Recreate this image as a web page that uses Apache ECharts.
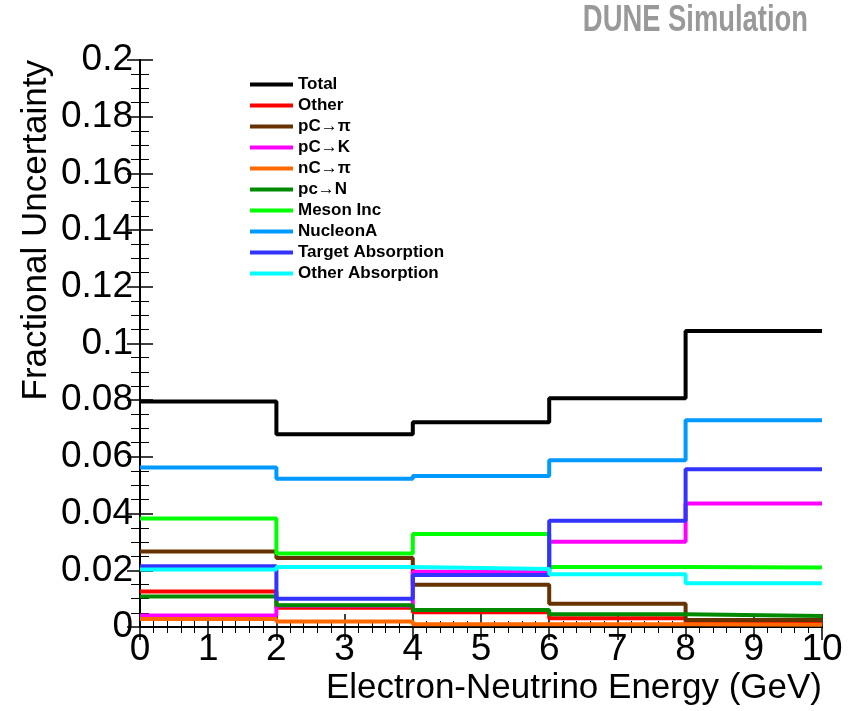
<!DOCTYPE html>
<html lang="en">
<head>
    <meta charset="UTF-8">
    <title>DUNE Simulation</title>
    <style>
        *{ margin: 0; padding: 0; }
        #main{ width: 858px; height: 711px; background: #fff; }
    </style>
</head>
<body>
<div id="main"></div>
<script src="https://cdn.jsdelivr.net/npm/echarts@6/dist/echarts.min.js"></script>
<script>
    // bin edges (GeV) and per-bin fractional uncertainties
    let binEdges = [0, 2, 4, 6, 8, 10];
    let names = ['Total', 'Other', 'pC\u2192\u03c0', 'pC\u2192K', 'nC\u2192\u03c0', 'pc\u2192N',
        'Meson Inc', 'NucleonA', 'Target Absorption', 'Other Absorption'];
    let colors = ['#000000', '#ff0000', '#663300', '#ff00ff', '#ff6a00', '#008a00',
        '#00ff00', '#0099ff', '#3333ff', '#00ffff'];

    let total = [0.0795, 0.0680, 0.0722, 0.0807, 0.1044];
    let other = [0.0125, 0.0068, 0.0052, 0.0031, 0.0015];
    let pcPi = [0.0266, 0.0243, 0.0149, 0.0082, 0.0025];
    let pcK = [0.0041, 0.0075, 0.0195, 0.0301, 0.0436];
    let ncPi = [0.0028, 0.0019, 0.0010, 0.0010, 0.0008];
    let pcN = [0.0108, 0.0077, 0.0060, 0.0045, 0.0039];
    let mesonInc = [0.0383, 0.0259, 0.0328, 0.0212, 0.0210];
    let nucleonA = [0.0563, 0.0523, 0.0533, 0.0588, 0.0729];
    let targetAbs = [0.0214, 0.0100, 0.0183, 0.0375, 0.0556];
    let otherAbs = [0.0203, 0.0212, 0.0205, 0.0186, 0.0154];

    let allValues = [total, other, pcPi, pcK, ncPi, pcN, mesonInc, nucleonA, targetAbs, otherAbs];

    function stepData(vals){
        let d = [];
        for(let i = 0;i<vals.length;i++){
            d.push([binEdges[i], vals[i]]);
        }
        d.push([binEdges[binEdges.length-1], vals[vals.length-1]]);
        return d;
    }

    let series = [];
    for(let i = 0;i<names.length;i++){
        series.push({
            name: names[i],
            type: 'line',
            step: 'end',
            showSymbol: false,
            symbol: 'none',
            data: stepData(allValues[i]),
            lineStyle: { color: colors[i], width: 4 },
            itemStyle: { color: colors[i] },
            animation: false
        });
    }

    let font = 'Liberation Sans, Arial, sans-serif';
    function tick(){
        return { inside: true, length: 13, lineStyle: { color: '#000', width: 1.5 } };
    }
    let myChart = echarts.init(document.getElementById('main'));
    myChart.setOption({
        animation: false,
        grid: { left: 140, right: 36, top: 60, bottom: 84 },
        xAxis: [{
            type: 'value', min: 0, max: 10, interval: 1,
            axisLine: { lineStyle: { color: '#000', width: 2 } },
            axisTick: tick(),
            minorTick: { show: true, splitNumber: 5, length: 6, lineStyle: { color: '#000', width: 1 } },
            axisLabel: { color: '#000', fontSize: 37, fontFamily: font, margin: 4 },
            splitLine: { show: false }
        }, {
            type: 'value', min: 0, max: 10, interval: 1, position: 'top',
            axisLine: { lineStyle: { color: '#000', width: 2 } },
            axisTick: tick(),
            minorTick: { show: true, splitNumber: 5, length: 6, lineStyle: { color: '#000', width: 1 } },
            axisLabel: { show: false },
            splitLine: { show: false }
        }],
        yAxis: [{
            type: 'value', min: 0, max: 0.2, interval: 0.02,
            axisLine: { show: true, lineStyle: { color: '#000', width: 2 } },
            axisTick: { inside: false, length: -13, lineStyle: { color: '#000', width: 1.5 } },
            minorTick: { show: true, splitNumber: 4, length: -9, lineStyle: { color: '#000', width: 1 } },
            axisLabel: {
                color: '#000', fontSize: 37, fontFamily: font, margin: 7,
                formatter: function(v){ return parseFloat(v.toFixed(2)).toString(); }
            },
            splitLine: { show: false }
        }, {
            type: 'value', min: 0, max: 0.2, interval: 0.02, position: 'right',
            axisLine: { show: true, lineStyle: { color: '#000', width: 2 } },
            axisTick: tick(),
            minorTick: { show: true, splitNumber: 4, length: 9, lineStyle: { color: '#000', width: 1 } },
            axisLabel: { show: false },
            splitLine: { show: false }
        }],
        legend: {
            orient: 'vertical',
            left: 245,
            top: 71,
            itemWidth: 43,
            itemHeight: 4,
            itemGap: 4,
            icon: 'rect',
            data: names,
            textStyle: { fontSize: 17, fontWeight: 'bold', fontFamily: font, color: '#000', lineHeight: 17 }
        },
        graphic: [{
            type: 'text',
            x: 808, y: 2,
            scaleX: 0.74,
            style: { text: 'DUNE Simulation', fill: '#999999', font: 'bold 37px ' + font,
                align: 'right', verticalAlign: 'top' }
        }, {
            type: 'text',
            x: 36, y: 60,
            rotation: Math.PI / 2,
            style: { text: 'Fractional Uncertainty', fill: '#000', font: '35px ' + font,
                align: 'right', verticalAlign: 'middle' }
        }, {
            type: 'text',
            right: 36,
            top: 671,
            style: { text: 'Electron-Neutrino Energy (GeV)', fill: '#000', font: '35px ' + font }
        }],
        series: series
    });
</script>
</body>
</html>
